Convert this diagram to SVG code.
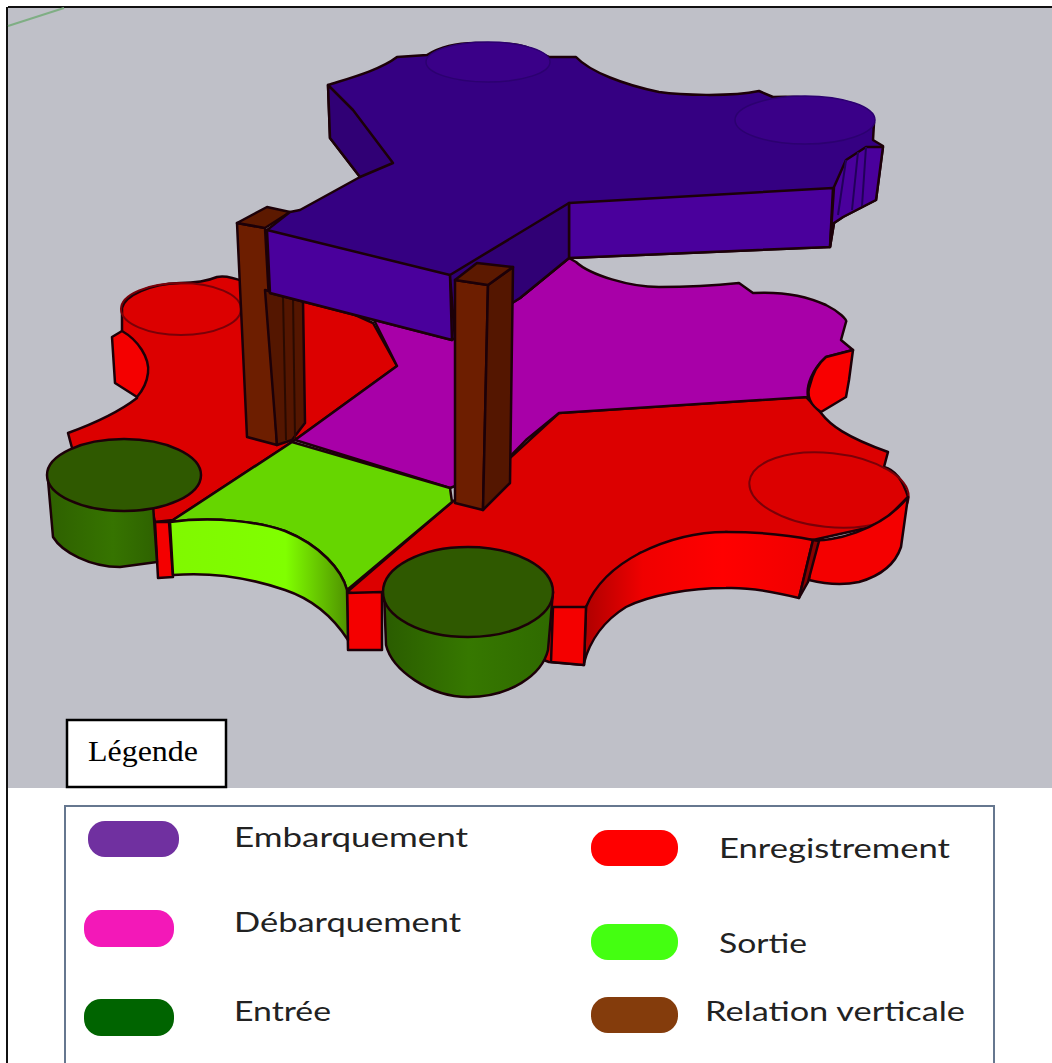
<svg xmlns="http://www.w3.org/2000/svg" width="1052" height="1063" viewBox="0 0 1052 1063">
<style>
.o{stroke:#1c0008;stroke-width:2.5;stroke-linejoin:round;stroke-linecap:round}
.t{stroke:#7a0008;stroke-width:2;fill:none}
.rt{fill:#dc0000}.rs{fill:#f40000}
.pt{fill:#350082}.ps{fill:#4a009c}.pd{fill:#300075}
.bf{fill:#6d1e00}.bd{fill:#541600}.bc{fill:#5c1900}
.gt{fill:#2f5900}
.lg{font-family:Lato,"Liberation Sans",sans-serif;font-size:27px;fill:#222}
</style>
<defs>
<linearGradient id="gs" x1="170" y1="0" x2="348" y2="0" gradientUnits="userSpaceOnUse"><stop offset="0" stop-color="#80f800"/><stop offset="0.65" stop-color="#80ff00"/><stop offset="1" stop-color="#4f9200"/></linearGradient>
<linearGradient id="cy" x1="47" y1="0" x2="157" y2="0" gradientUnits="userSpaceOnUse"><stop offset="0" stop-color="#2e6000"/><stop offset="0.6" stop-color="#367400"/><stop offset="1" stop-color="#2e6200"/></linearGradient>
<linearGradient id="cy2" x1="384" y1="0" x2="553" y2="0" gradientUnits="userSpaceOnUse"><stop offset="0" stop-color="#2a5c00"/><stop offset="0.5" stop-color="#367800"/><stop offset="1" stop-color="#2f6a00"/></linearGradient>
<linearGradient id="rc" x1="586" y1="0" x2="813" y2="0" gradientUnits="userSpaceOnUse"><stop offset="0" stop-color="#b00000"/><stop offset="0.25" stop-color="#f00000"/><stop offset="0.6" stop-color="#ff0000"/><stop offset="1" stop-color="#f00000"/></linearGradient>
</defs>
<rect id="background" x="0" y="0" width="1052" height="1063" fill="#fff"/>
<rect x="8" y="8" width="1044" height="780" fill="#bfc0c8"/>
<path d="M8 7H1052M7 7V1063" fill="none" stroke="#111" stroke-width="2"/>
<path d="M8 26L64 8" fill="none" stroke="#7fae84" stroke-width="2"/>

<g id="enregistrement">
<path class="o rt" d="M122 308C125 295 150 284 180 283C195 283 205 282 217 277C225 275 235 278 245 282L300 290L373 323L397 366L295 440L173 520L155 522L152 510L130 480L72 448L68 433C90 425 115 415 137 398L122 332Z"/>
<path class="o rs" d="M112 337L122 331C138 340 150 358 148 373C147 382 143 390 137 397L115 383Z"/>
<ellipse class="t" cx="181" cy="309" rx="60" ry="26"/>
<path class="o rt" d="M559 413L806 397L821 413C830 425 846 437 888 452L884 467C895 470 903 480 908 497L880 525L813 540L726 532L640 553L586 607L584 665L549 662L382 600L347 592L452 502L497 470Z"/>
<ellipse class="t" cx="829" cy="490" rx="80" ry="37" transform="rotate(6 829 490)"/>
<path class="o rs" d="M813 540C830 542 880 532 908 497L901 547C895 565 880 576 859 582C840 586 825 584 809 580Z"/>
<path class="o" fill="url(#rc)" d="M586 607C595 585 613 567 640 553C670 538 700 532 726 532C755 532 790 535 813 540L799 598C775 592 750 587 726 588C690 588 650 595 626 607C605 620 590 640 584 663Z"/>
<path class="o" fill="#8a0000" d="M813 540L819 541L808 582L799 598Z"/>
<path class="o rs" d="M553 607L586 607L584 665L551 662Z"/>
<path class="o rs" d="M347 593L382 592L382 650L348 650Z"/>
<path class="o rs" d="M155 522L169 522L173 577L158 578Z"/>
</g>

<g id="debarquement">
<path class="o" fill="#a800a8" d="M569 258L576 262C590 275 630 287 659 287C690 287 720 285 739 283L753 293C770 292 800 293 826 305C838 311 848 320 846 322L841 340L853 350L826 357C812 370 806 385 808 397L559 413L526 440L497 470L450 488L295 440L397 366L373 318L455 325L520 298Z"/>
<path class="o" fill="#f80000" d="M853 350L849 380L846 397L821 412C810 405 806 395 810 385C813 372 820 362 826 357Z"/>
</g>

<g id="sortie">
<path class="o" fill="#66d600" d="M292 442L450 488L452 502L347 590C342 570 320 545 285 531C260 522 215 516 170 522Z"/>
<path class="o" fill="url(#gs)" d="M170 522C215 516 260 522 285 531C320 545 342 570 347 590L348 640C335 620 315 600 285 590C250 578 210 572 173 575Z"/>
</g>

<g id="entree-gauche">
<path class="o" fill="url(#cy)" d="M48 480L53 537C62 552 90 567 120 567L157 562L152 490L48 480Z"/>
<ellipse class="o gt" cx="124" cy="475" rx="77" ry="36"/>
</g>
<g id="entree-avant">
<path class="o" fill="url(#cy2)" d="M384 592L386 645C392 670 430 697 468 697C510 697 542 675 548 650L553 592Z"/>
<ellipse class="o gt" cx="468" cy="592" rx="85" ry="45"/>
</g>

<g id="relation-gauche">
<path class="o bf" d="M237 223L265 228L277 445L247 437Z"/>
<path class="o bd" d="M265 290L303 300L305 423L292 440L277 445Z"/>
<path d="M283 296L286 440M293 298L295 438" fill="none" stroke="#2a0a00" stroke-width="2"/>
<path class="o bc" d="M237 223L267 207L290 212L265 228Z"/>
</g>

<g id="embarquement">
<path class="o pt" d="M328 85C350 78 380 70 397 57L427 55C440 47 455 43 475 43C495 43 515 43 526 47L549 57L576 57C590 72 625 85 659 92C680 95 730 97 759 91L773 97C790 96 830 97 853 107C865 112 873 118 874 123L873 140L883 146L876 200L843 217L834 223L830 247L569 258L520 298L452 340L270 293L267 230L290 212L300 210L360 177L330 138Z"/>
<path class="o pd" d="M328 85L353 110L393 163L360 177L330 138Z"/>
<ellipse cx="488" cy="62" rx="62" ry="20" fill="#3a0088" stroke="#2c0070" stroke-width="1.5"/>
<ellipse cx="805" cy="120" rx="70" ry="24" fill="#3a0088" stroke="#2c0070" stroke-width="1.5"/>
<path class="o ps" d="M267 230L450 275L452 340L270 293Z"/>
<path class="o ps" d="M569 203L833 188L830 247L569 258Z"/>
<path class="o pd" d="M569 203L569 258L520 298L455 340L450 275Z"/>
<path class="o ps" d="M834 187L846 160L866 147L883 147L876 200L843 217L834 223L830 247Z"/>
<path d="M846 160L838 215M858 152L852 210M866 147L862 206" fill="none" stroke="#22005a" stroke-width="2"/>
</g>

<g id="relation-droite">
<path class="o bf" d="M455 280L488 285L483 510L455 503Z"/>
<path class="o bd" d="M488 285L513 267L510 483L483 510Z"/>
<path class="o bc" d="M455 280L477 263L513 267L488 285Z"/>
</g>

<g id="legende-titre">
<rect x="67" y="720" width="159" height="67" fill="#fff" stroke="#000" stroke-width="2.5"/>
<text x="88" y="761" font-family="'Liberation Serif',serif" font-size="30" textLength="110" lengthAdjust="spacingAndGlyphs" fill="#000">Légende</text>
</g>

<g id="legende">
<path d="M65 1063V806H994V1063" fill="none" stroke="#66778f" stroke-width="2"/>
<rect x="88" y="821" width="91" height="36" rx="17" fill="#7030a0"/>
<rect x="84" y="910" width="90" height="37" rx="17" fill="#f318b8"/>
<rect x="84" y="999" width="90" height="37" rx="17" fill="#006400"/>
<rect x="591" y="830" width="87" height="36" rx="17" fill="#ff0000"/>
<rect x="591" y="924" width="87" height="36" rx="17" fill="#44ff11"/>
<rect x="591" y="997" width="87" height="36" rx="17" fill="#843c0c"/>
<text class="lg" x="234" y="847" textLength="234" lengthAdjust="spacingAndGlyphs">Embarquement</text>
<text class="lg" x="234" y="932" textLength="227" lengthAdjust="spacingAndGlyphs">Débarquement</text>
<text class="lg" x="234" y="1021" textLength="97" lengthAdjust="spacingAndGlyphs">Entrée</text>
<text class="lg" x="719" y="858" textLength="231" lengthAdjust="spacingAndGlyphs">Enregistrement</text>
<text class="lg" x="719" y="953" textLength="88" lengthAdjust="spacingAndGlyphs">Sortie</text>
<text class="lg" x="705" y="1021" textLength="260" lengthAdjust="spacingAndGlyphs">Relation verticale</text>
</g>
</svg>
